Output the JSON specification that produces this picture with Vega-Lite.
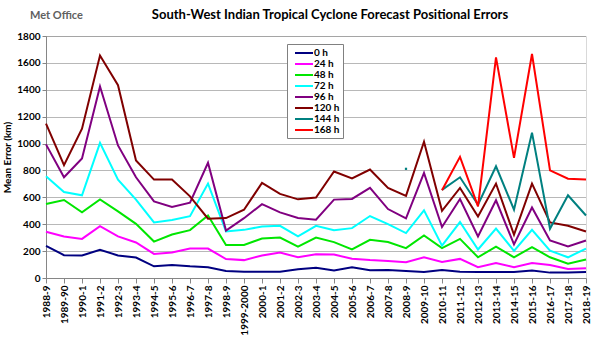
{
  "$schema": "https://vega.github.io/schema/vega-lite/v6.json",
  "width": 540,
  "height": 242,
  "autosize": "none",
  "padding": {"left": 46, "top": 36, "right": 14, "bottom": 60},
  "background": "white",
  "title": {"text": "South-West  Indian Tropical Cyclone Forecast Positional Errors", "font": "Lato", "fontSize": 13, "fontWeight": "bold", "color": "#000000", "anchor": "middle", "frame": "group", "dx": 14, "dy": 24, "offset": 12},
  "config": {"font": "Lato", "view": {"stroke": "#d9d9d9", "strokeWidth": 1}},
  "data": {"values": [
    {"season": "1988-9", "0 h": 239, "24 h": 344, "48 h": 550, "72 h": 757, "96 h": 994, "120 h": 1148},
    {"season": "1989-90", "0 h": 170, "24 h": 309, "48 h": 580, "72 h": 640, "96 h": 749, "120 h": 839},
    {"season": "1990-1", "0 h": 167, "24 h": 291, "48 h": 488, "72 h": 615, "96 h": 889, "120 h": 1111},
    {"season": "1991-2", "0 h": 209, "24 h": 386, "48 h": 585, "72 h": 1005, "96 h": 1424, "120 h": 1655},
    {"season": "1992-3", "0 h": 168, "24 h": 309, "48 h": 495, "72 h": 732, "96 h": 986, "120 h": 1434},
    {"season": "1993-4", "0 h": 152, "24 h": 264, "48 h": 403, "72 h": 583, "96 h": 749, "120 h": 874},
    {"season": "1994-5", "0 h": 87, "24 h": 179, "48 h": 271, "72 h": 413, "96 h": 570, "120 h": 732},
    {"season": "1995-6", "0 h": 97, "24 h": 189, "48 h": 323, "72 h": 431, "96 h": 528, "120 h": 732},
    {"season": "1996-7", "0 h": 87, "24 h": 219, "48 h": 356, "72 h": 460, "96 h": 560, "120 h": 607},
    {"season": "1997-8", "0 h": 80, "24 h": 219, "48 h": 465, "72 h": 702, "96 h": 857, "120 h": 441},
    {"season": "1998-9", "0 h": 52, "24 h": 141, "48 h": 246, "72 h": 346, "96 h": 353, "120 h": 446},
    {"season": "1999-2000", "0 h": 47, "24 h": 133, "48 h": 246, "72 h": 358, "96 h": 445, "120 h": 508},
    {"season": "2000-1", "0 h": 47, "24 h": 167, "48 h": 294, "72 h": 383, "96 h": 549, "120 h": 707},
    {"season": "2001-2", "0 h": 47, "24 h": 189, "48 h": 301, "72 h": 388, "96 h": 488, "120 h": 626},
    {"season": "2002-3", "0 h": 65, "24 h": 154, "48 h": 234, "72 h": 309, "96 h": 446, "120 h": 585},
    {"season": "2003-4", "0 h": 77, "24 h": 177, "48 h": 301, "72 h": 388, "96 h": 433, "120 h": 598},
    {"season": "2004-5", "0 h": 55, "24 h": 174, "48 h": 267, "72 h": 356, "96 h": 583, "120 h": 792},
    {"season": "2005-6", "0 h": 80, "24 h": 144, "48 h": 212, "72 h": 371, "96 h": 588, "120 h": 740},
    {"season": "2006-7", "0 h": 57, "24 h": 134, "48 h": 284, "72 h": 461, "96 h": 670, "120 h": 807},
    {"season": "2007-8", "0 h": 60, "24 h": 127, "48 h": 267, "72 h": 401, "96 h": 513, "120 h": 670},
    {"season": "2008-9", "0 h": 52, "24 h": 117, "48 h": 222, "72 h": 334, "96 h": 444, "120 h": 611, "144 h": 812},
    {"season": "2009-10", "0 h": 45, "24 h": 154, "48 h": 316, "72 h": 503, "96 h": 782, "120 h": 1014},
    {"season": "2010-11", "0 h": 60, "24 h": 120, "48 h": 222, "72 h": 241, "96 h": 379, "120 h": 500, "144 h": 655, "168 h": 652},
    {"season": "2011-12", "0 h": 47, "24 h": 142, "48 h": 291, "72 h": 416, "96 h": 588, "120 h": 670, "144 h": 749, "168 h": 901},
    {"season": "2012-13", "0 h": 45, "24 h": 80, "48 h": 154, "72 h": 212, "96 h": 309, "120 h": 458, "144 h": 545, "168 h": 533},
    {"season": "2013-14", "0 h": 45, "24 h": 112, "48 h": 234, "72 h": 368, "96 h": 578, "120 h": 702, "144 h": 831, "168 h": 1641},
    {"season": "2014-15", "0 h": 45, "24 h": 80, "48 h": 154, "72 h": 202, "96 h": 250, "120 h": 321, "144 h": 508, "168 h": 894},
    {"season": "2015-16", "0 h": 55, "24 h": 112, "48 h": 229, "72 h": 359, "96 h": 524, "120 h": 702, "144 h": 1081, "168 h": 1666},
    {"season": "2016-17", "0 h": 40, "24 h": 97, "48 h": 154, "72 h": 204, "96 h": 279, "120 h": 413, "144 h": 366, "168 h": 801},
    {"season": "2017-18", "0 h": 40, "24 h": 67, "48 h": 107, "72 h": 154, "96 h": 234, "120 h": 388, "144 h": 615, "168 h": 739},
    {"season": "2018-19", "0 h": 45, "24 h": 72, "48 h": 137, "72 h": 219, "96 h": 279, "120 h": 346, "144 h": 465, "168 h": 732}
  ]},
  "transform": [
    {"fold": ["0 h", "24 h", "48 h", "72 h", "96 h", "120 h", "144 h", "168 h"], "as": ["lead", "error"]},
    {"filter": "isValid(datum.error)"}
  ],
  "encoding": {
    "x": {"field": "season", "type": "ordinal", "title": null,
      "scale": {"type": "point", "padding": 0, "domain": ["1988-9","1989-90","1990-1","1991-2","1992-3","1993-4","1994-5","1995-6","1996-7","1997-8","1998-9","1999-2000","2000-1","2001-2","2002-3","2003-4","2004-5","2005-6","2006-7","2007-8","2008-9","2009-10","2010-11","2011-12","2012-13","2013-14","2014-15","2015-16","2016-17","2017-18","2018-19"]},
      "axis": {"labelAngle": 270, "labelAlign": "right", "labelBaseline": "middle", "labelFont": "Lato", "labelFontSize": 10, "labelFontWeight": "bold", "labelColor": "#000000", "labelPadding": 2, "labelOverlap": false, "tickSize": 5, "tickColor": "#868686", "domainColor": "#868686", "grid": false}},
    "y": {"field": "error", "type": "quantitative",
      "scale": {"domain": [0, 1800], "nice": false},
      "axis": {"title": "Mean Error (km)", "titleFont": "Lato", "titleFontSize": 10, "titleFontWeight": "bold", "titleColor": "#000000", "titlePadding": 4, "values": [0,200,400,600,800,1000,1200,1400,1600,1800], "format": "d", "labelOverlap": false, "labelFont": "Lato", "labelFontSize": 10, "labelFontWeight": "bold", "labelColor": "#000000", "labelPadding": 2, "tickSize": 4, "tickColor": "#868686", "domainColor": "#868686", "gridColor": "#707070", "gridDash": [1, 1], "gridWidth": 1}}
  },
  "layer": [
    {
      "transform": [{"filter": "!(datum.lead == '144 h' && datum.season == '2008-9')"}],
      "mark": {"type": "line", "strokeWidth": 2},
      "encoding": {
        "color": {"field": "lead", "type": "nominal",
          "scale": {"domain": ["0 h", "24 h", "48 h", "72 h", "96 h", "120 h", "144 h", "168 h"], "range": ["#000080", "#ff00ff", "#00e600", "#00ffff", "#800080", "#800000", "#008080", "#ff0000"]},
          "legend": {"orient": "none", "legendX": 241, "legendY": 8, "title": null, "strokeColor": "#808080", "fillColor": "#ffffff", "padding": 3, "symbolType": "M-1.8,0H1.8", "symbolSize": 100, "symbolStrokeWidth": 2, "symbolOffset": 8, "labelOffset": 4, "labelFont": "Lato", "labelFontSize": 10, "labelFontWeight": "bold", "labelColor": "#000000", "rowPadding": 0}}
      }
    },
    {
      "transform": [{"filter": "datum.lead == '144 h' && datum.season == '2008-9'"}],
      "mark": {"type": "point", "filled": true, "shape": "square", "size": 5, "opacity": 1},
      "encoding": {
        "color": {"field": "lead", "type": "nominal", "legend": null}
      }
    },
    {
      "data": {"values": [{"season": "1988-9", "error": 1800, "label": "Met Office"}]},
      "mark": {"type": "text", "align": "left", "baseline": "middle", "dx": -16, "dy": -20, "font": "Lato", "fontSize": 11, "fontWeight": "bold", "color": "#606060"},
      "encoding": {"text": {"field": "label"}}
    }
  ]
}
